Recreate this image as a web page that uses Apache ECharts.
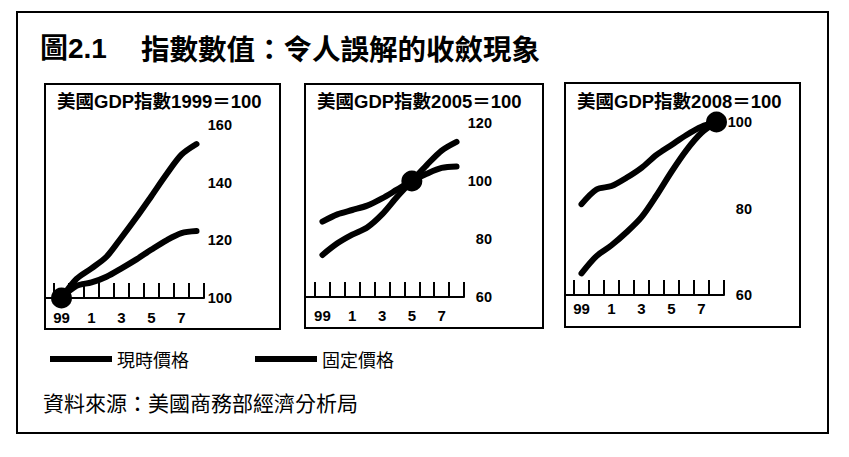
<!DOCTYPE html>
<html lang="zh-Hant">
<head>
<meta charset="UTF-8">
<title>圖2.1 指數數值：令人誤解的收斂現象</title>
<script src="https://cdn.jsdelivr.net/npm/echarts@6/dist/echarts.min.js"></script>
<style>
    html, body {margin: 0; padding: 0; background: #fff;}
    #chart {width: 849px; height: 457px;}
</style>
</head>
<body>
<div id="chart"></div>
<script>
    // 年份刻度（1999 ~ 2008）
    const years = ['99', '0', '1', '2', '3', '4', '5', '6', '7', '8'];
    const panelTitles = ['美國GDP指數1999＝100', '美國GDP指數2005＝100', '美國GDP指數2008＝100'];
    const baseIndex = [0, 6, 9];
    const yMin = [100, 60, 60];
    const yMax = [160, 120, 100];

    // 現時價格
    const current1999 = [100, 106.6, 110.3, 114.3, 121, 128, 135.4, 142.9, 149.7, 153.4];
    const current2005 = [74.5, 78.5, 81.5, 84, 88.5, 94.5, 100, 105.5, 110.5, 113.5];
    const current2008 = [65, 69, 71.5, 74.5, 78, 83, 88.5, 93.5, 97.5, 100];
    // 固定價格
    const fixed1999 = [100, 104.2, 105.4, 107.4, 110.3, 113.4, 116.8, 120, 122.5, 123.2];
    const fixed2005 = [86, 88.5, 90, 91.5, 94, 97, 100, 102.5, 104.5, 105];
    const fixed2008 = [81, 84.4, 85.2, 87.1, 89.4, 92.4, 94.7, 97, 98.9, 100];

    const currentData = [current1999, current2005, current2008];
    const fixedData   = [fixed1999, fixed2005, fixed2008];

    const latin = '"Liberation Sans", "Noto Sans CJK TC", sans-serif';
    const cjk = '"Noto Sans CJK TC", "Liberation Sans", sans-serif';

    const grids  = [
        {left: 54, top: 125, width: 150, height: 173},
        {left: 315, top: 123, width: 149, height: 174},
        {left: 574, top: 122, width: 150, height: 173}
    ];
    const panels = [
        {x: 45, y: 84, width: 235, height: 245},
        {x: 305, y: 84, width: 238, height: 244},
        {x: 565, y: 83, width: 235, height: 244}
    ];
    const labelMargin = [12, 11, 6];

    let xAxis = [], yAxis = [], series = [], graphic = [];

    graphic.push({
        type : 'rect', shape: {x: 17, y: 12, width: 811, height: 421},
        style: {fill: 'none', stroke: '#000', lineWidth: 2}
    });
    graphic.push({
        type : 'text', left: 40, top: 34,
        style: {text: '圖2.1', font: 'bold 28px ' + latin, fill: '#000'}
    });
    graphic.push({
        type : 'text', left: 141, top: 33,
        style: {text: '指數數值：令人誤解的收斂現象', font: 'bold 28.5px ' + cjk, fill: '#000'}
    });
    graphic.push({
        type : 'text', left: 43, top: 391,
        style: {text: '資料來源：美國商務部經濟分析局', font: '21px ' + cjk, fill: '#000'}
    });

    for (let i = 0; i < 3; i++) {
        let g = grids[i], p = panels[i];
        graphic.push({
            type : 'rect', shape: p,
            style: {fill: 'none', stroke: '#000', lineWidth: 2}
        });
        graphic.push({
            type : 'text', left: p.x + 12, top: 92,
            style: {text: panelTitles[i], font: 'bold 18.5px ' + latin, fill: '#000'}
        });
        // 基線延伸到框邊
        graphic.push({
            type : 'line',
            shape: {x1: p.x, y1: g.top + g.height, x2: g.left, y2: g.top + g.height},
            style: {stroke: '#000', lineWidth: 2}
        });

        xAxis.push({
            type       : 'category',
            gridIndex  : i,
            data       : years,
            boundaryGap: true,
            axisLine   : {lineStyle: {color: '#000', width: 2}},
            axisTick   : {show: true, inside: true, length: 15, interval: 0, lineStyle: {color: '#000', width: 2}},
            axisLabel  : {interval: 1, color: '#000', fontSize: 15, fontWeight: 'bold', fontFamily: latin, margin: labelMargin[i]},
            splitLine  : {show: false}
        });
        yAxis.push({
            type     : 'value',
            gridIndex: i,
            position : 'right',
            min      : yMin[i],
            max      : yMax[i],
            interval : 20,
            axisLine : {show: false},
            axisTick : {show: false},
            splitLine: {show: false},
            axisLabel: {align: 'right', margin: 28, color: '#000', fontSize: 14.5, fontWeight: 'bold', fontFamily: latin}
        });

        series.push({
            name      : '現時價格',
            type      : 'line',
            xAxisIndex: i,
            yAxisIndex: i,
            data      : currentData[i],
            symbol    : 'none',
            smooth    : 0.3,
            color     : '#000',
            lineStyle : {color: '#000', width: 6, cap: 'round'}
        });
        series.push({
            name      : '固定價格',
            type      : 'line',
            xAxisIndex: i,
            yAxisIndex: i,
            data      : fixedData[i],
            symbol    : 'none',
            smooth    : 0.3,
            color     : '#000',
            lineStyle : {color: '#000', width: 6, cap: 'round'}
        });
        series.push({
            type      : 'scatter',
            xAxisIndex: i,
            yAxisIndex: i,
            data      : [[baseIndex[i], 100]],
            symbolSize: 21,
            itemStyle : {color: '#000', opacity: 1},
            z         : 5
        });
    }

    let chart = echarts.init(document.getElementById('chart'), null, {renderer: 'svg'});
    chart.setOption({
        backgroundColor: '#fff',
        animation      : false,
        grid           : grids,
        xAxis          : xAxis,
        yAxis          : yAxis,
        legend         : {
            data        : ['現時價格', '固定價格'],
            left        : 45,
            top         : 345,
            icon        : 'rect',
            itemWidth   : 62,
            itemHeight  : 6,
            itemGap     : 66,
            selectedMode: false,
            textStyle   : {color: '#000', fontSize: 18, fontFamily: cjk}
        },
        tooltip        : {show: false},
        graphic        : graphic,
        series         : series
    });
</script>
</body>
</html>
